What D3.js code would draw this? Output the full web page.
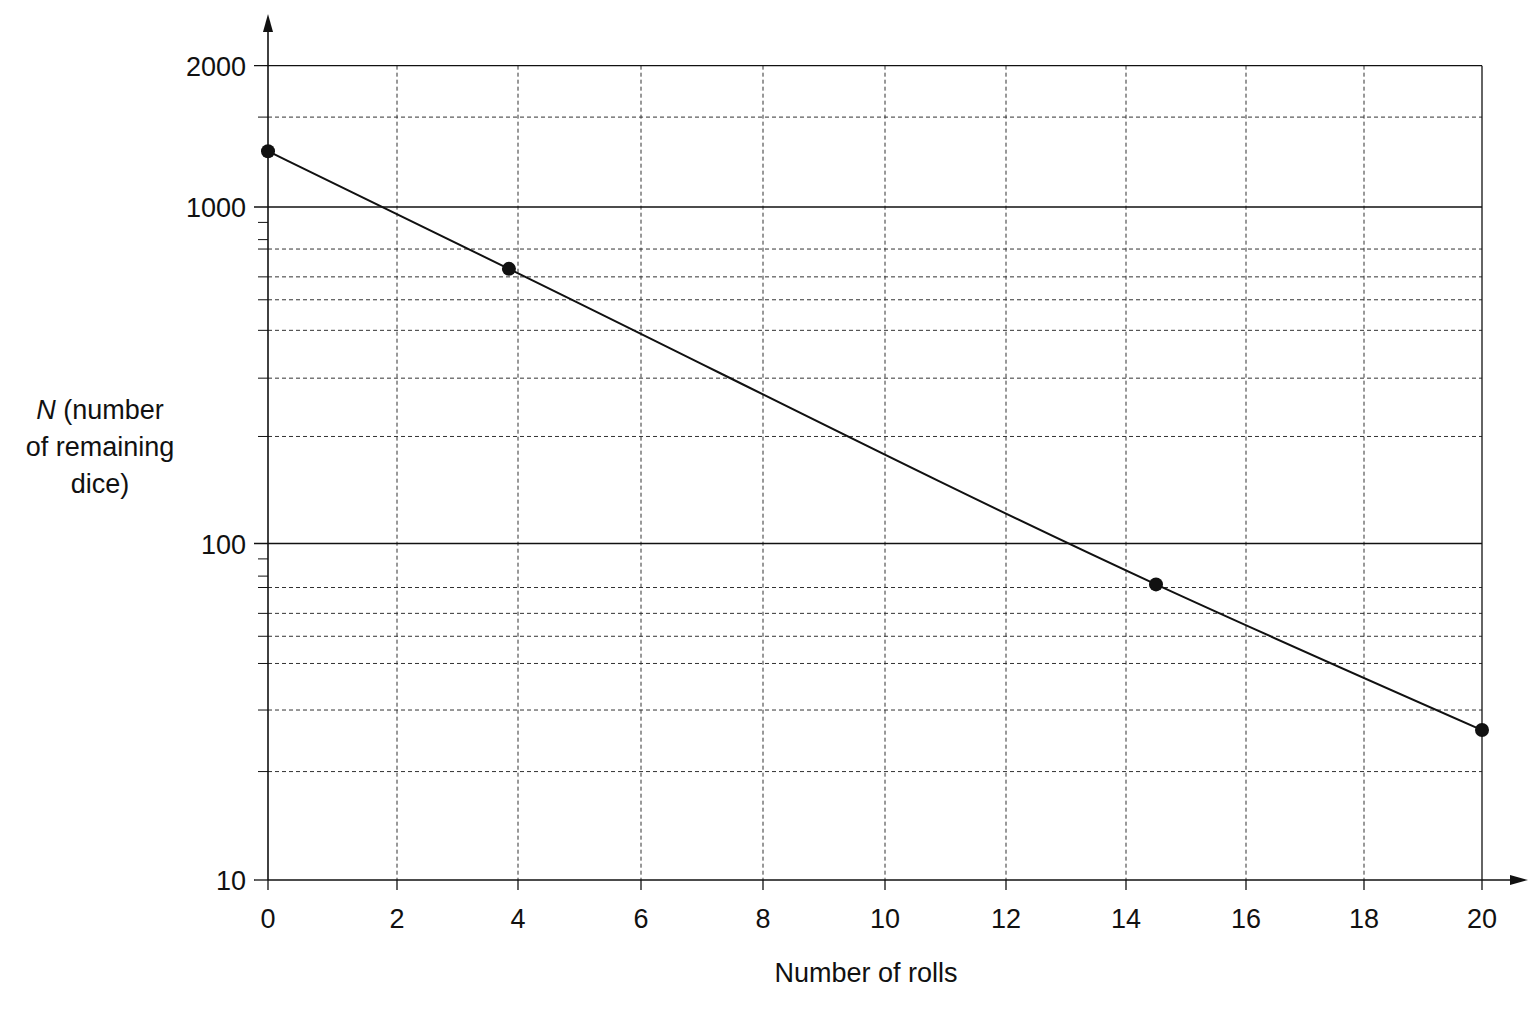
<!DOCTYPE html>
<html><head><meta charset="utf-8">
<script src="https://cdn.jsdelivr.net/npm/d3@7"></script>
<style>body{margin:0;background:#fff}text{font-family:"Liberation Sans",Arial,sans-serif;fill:#111}</style>
</head><body>
<svg id="c" width="1536" height="1024"></svg>
<script>
const xTicks = [0,2,4,6,8,10,12,14,16,18,20];
const yMajor = [10,100,1000];
const yTopValue = 2630; const yTopLabel = "2000";
const yDashed = [1850,750,620,530,430,310,208,74,62,53,44,32,21];
const yMinorTicks = [900,800,90,80];
const rolls = [0,3.85,14.5,20];
const dice = [1465,655,75.6,27.9];

const svg = d3.select("#c");
const x = d3.scaleLinear().domain(xTicks).range([268,397,518,641,763,885,1006,1126,1246,1364,1482]);
const y = d3.scaleLog().domain([10,1000]).range([880,207]);
const x0=x(0), x1=x(20), yb=y(10), yt=y(yTopValue);

svg.selectAll(".vg").data(xTicks.filter(d=>d>0&&d<20)).enter().append("line")
 .attr("x1",d=>x(d)).attr("x2",d=>x(d)).attr("y1",yt).attr("y2",yb)
 .attr("stroke","#333").attr("stroke-width",1).attr("stroke-dasharray","4,3");
svg.selectAll(".hd").data(yDashed).enter().append("line")
 .attr("x1",x0).attr("x2",x1).attr("y1",d=>y(d)).attr("y2",d=>y(d))
 .attr("stroke","#333").attr("stroke-width",1).attr("stroke-dasharray","4,3");
svg.selectAll(".hs").data([100,1000,yTopValue]).enter().append("line")
 .attr("x1",x0-14).attr("x2",x1).attr("y1",d=>y(d)).attr("y2",d=>y(d))
 .attr("stroke","#111").attr("stroke-width",1.3);
svg.append("line").attr("x1",x1).attr("x2",x1).attr("y1",yt).attr("y2",yb).attr("stroke","#111").attr("stroke-width",1.3);
svg.selectAll(".mt").data(yDashed.concat(yMinorTicks)).enter().append("line")
 .attr("x1",x0-10).attr("x2",x0).attr("y1",d=>y(d)).attr("y2",d=>y(d)).attr("stroke","#111");
svg.append("line").attr("x1",x0).attr("x2",1515).attr("y1",yb).attr("y2",yb).attr("stroke","#111").attr("stroke-width",1.6);
svg.append("line").attr("x1",x0).attr("x2",x0).attr("y1",yb).attr("y2",28).attr("stroke","#111").attr("stroke-width",1.6);
svg.append("path").attr("d",`M${x0},14 L${x0-5},32 L${x0+5},32 Z`).attr("fill","#111");
svg.append("path").attr("d",`M1528,${yb} L1510,${yb-5} L1510,${yb+5} Z`).attr("fill","#111");
svg.append("line").attr("x1",x0-14).attr("x2",x0).attr("y1",yb).attr("y2",yb).attr("stroke","#111").attr("stroke-width",1.3);
svg.selectAll(".xt").data(xTicks).enter().append("line")
 .attr("x1",d=>x(d)).attr("x2",d=>x(d)).attr("y1",yb).attr("y2",yb+10).attr("stroke","#111").attr("stroke-width",1.3);
svg.selectAll(".xl").data(xTicks).enter().append("text")
 .attr("x",d=>x(d)).attr("y",yb+48).attr("text-anchor","middle").attr("font-size",27).text(d=>d);
const yl=[{v:10,t:"10"},{v:100,t:"100"},{v:1000,t:"1000"},{v:yTopValue,t:yTopLabel}];
svg.selectAll(".yl").data(yl).enter().append("text")
 .attr("x",x0-22).attr("y",d=>y(d.v)+10).attr("text-anchor","end").attr("font-size",27).text(d=>d.t);
svg.append("text").attr("x",866).attr("y",982).attr("text-anchor","middle").attr("font-size",27).text("Number of rolls");
const t=svg.append("text").attr("text-anchor","middle").attr("font-size",27);
const l1=t.append("tspan").attr("x",100).attr("y",419);
l1.append("tspan").attr("font-style","italic").text("N");
l1.append("tspan").text(" (number");
t.append("tspan").attr("x",100).attr("y",456).text("of remaining");
t.append("tspan").attr("x",100).attr("y",493).text("dice)");
const pts=rolls.map((r,i)=>[r,dice[i]]);
svg.append("path").datum(pts).attr("fill","none").attr("stroke","#111").attr("stroke-width",2)
 .attr("d",d3.line().x(d=>x(d[0])).y(d=>y(d[1])).curve(d3.curveMonotoneX));
svg.selectAll(".pt").data(pts).enter().append("circle")
 .attr("cx",d=>x(d[0])).attr("cy",d=>y(d[1])).attr("r",7).attr("fill","#111");
</script></body></html>
